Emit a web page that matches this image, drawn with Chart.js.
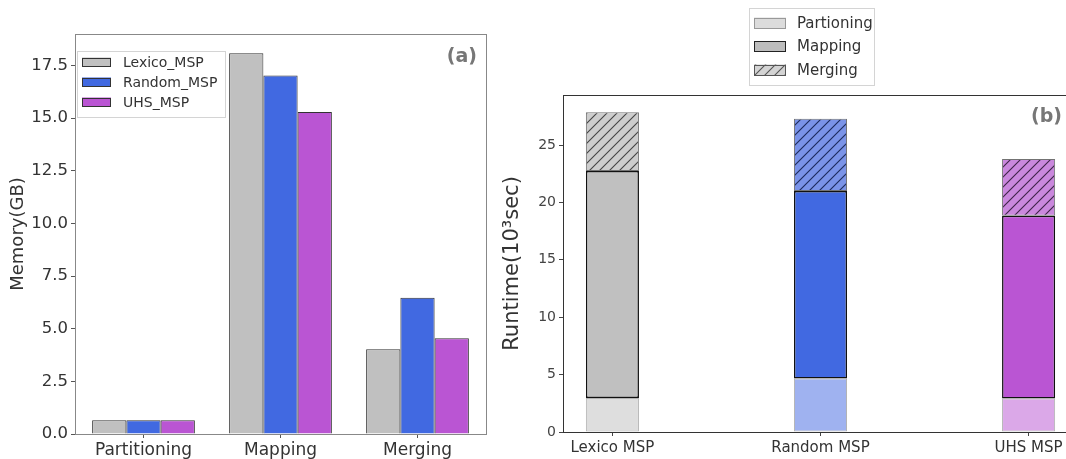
<!DOCTYPE html>
<html>
<head>
<meta charset="utf-8">
<script src="https://cdn.jsdelivr.net/npm/chart.js@4.4.1/dist/chart.umd.min.js"></script>
<style>
html, body { margin: 0; padding: 0; background: #fff; overflow: hidden; width: 1066px; height: 459px; }
canvas { position: absolute; top: 0; }
</style>
</head>
<body>
<canvas id="memChart" width="500" height="459" style="left:0"></canvas>
<canvas id="timeChart" width="600" height="459" style="left:500px"></canvas>
<script>
// Panel (a): peak memory (GB) per phase
const phases = ['Partitioning', 'Mapping', 'Merging'];
const lexicoMem = [0.65, 18.08, 4.02];
const randomMem = [0.65, 17.03, 6.47];
const uhsMem = [0.65, 15.29, 4.55];
const memTicks = [0, 2.5, 5, 7.5, 10, 12.5, 15, 17.5];

// Panel (b): runtime (10^3 sec) per method, stacked by phase
const methods = ['Lexico MSP', 'Random MSP', 'UHS MSP'];
const partTime = [2.96, 4.66, 2.91];
const mapTime = [19.77, 16.33, 15.92];
const mergeTime = [5.12, 6.30, 4.95];
const timeTicks = [0, 5, 10, 15, 20, 25];

Chart.defaults.font.family = '"DejaVu Sans", sans-serif';
Chart.defaults.color = '#333';
Chart.defaults.animation = false;

// Diagonal hatch fill like matplotlib's '///'
function hatch(bg, line) {
    const s = 10;
    const c = document.createElement('canvas');
    c.width = s; c.height = s;
    const g = c.getContext('2d');
    g.fillStyle = bg;
    g.fillRect(0, 0, s, s);
    g.strokeStyle = line;
    g.lineWidth = 1.1;
    g.beginPath();
    g.moveTo(0, s); g.lineTo(s, 0);
    g.moveTo(-1, 1); g.lineTo(1, -1);
    g.moveTo(s - 1, s + 1); g.lineTo(s + 1, s - 1);
    g.stroke();
    return g.createPattern(c, 'repeat');
}

// Frame on all four sides, panel tag and a boxed legend
const framePlugin = {
    id: 'frame',
    afterDraw(chart, args, opts) {
        const { ctx, chartArea: a } = chart;
        ctx.save();
        ctx.strokeStyle = opts.color;
        ctx.lineWidth = 1;
        ctx.strokeRect(Math.round(a.left) + 0.5, Math.round(a.top) + 0.5,
            Math.round(a.right - a.left), Math.round(a.bottom - a.top));

        ctx.font = 'bold 19px "DejaVu Sans"';
        ctx.fillStyle = '#777';
        ctx.textAlign = 'right';
        ctx.textBaseline = 'middle';
        ctx.fillText(opts.tag, a.right - opts.tagDx, a.top + opts.tagDy);

        const lg = opts.legend;
        ctx.fillStyle = '#fff';
        ctx.strokeStyle = '#d4d4d4';
        ctx.fillRect(lg.x, lg.y, lg.w, lg.h);
        ctx.strokeRect(lg.x + 0.5, lg.y + 0.5, lg.w, lg.h);
        ctx.font = lg.font;
        ctx.textAlign = 'left';
        lg.items.forEach((it, i) => {
            const cy = lg.firstY + i * lg.rowH;
            ctx.fillStyle = it.fill;
            ctx.fillRect(lg.swX, cy - lg.swH / 2, lg.swW, lg.swH);
            ctx.strokeStyle = it.stroke;
            ctx.strokeRect(lg.swX + 0.5, Math.round(cy - lg.swH / 2) + 0.5, lg.swW - 1, lg.swH - 1);
            ctx.fillStyle = '#333';
            ctx.fillText(it.label, lg.textX, cy + 1);
        });
        ctx.restore();
    }
};

// ---- Panel (a)
const memColors = ['#c0c0c0', '#4169e1', '#ba55d3'];
const memNames = ['Lexico_MSP', 'Random_MSP', 'UHS_MSP'];
const memSeries = [lexicoMem, randomMem, uhsMem];

new Chart(document.getElementById('memChart'), {
    type: 'bar',
    data: {
        labels: phases,
        datasets: memSeries.map((vals, i) => ({
            label: memNames[i],
            data: vals,
            backgroundColor: memColors[i],
            borderColor: '#333',
            borderWidth: 1,
            borderSkipped: 'bottom',
            categoryPercentage: 0.75,
            barPercentage: 1.0
        }))
    },
    options: {
        responsive: false,
        layout: { padding: { left: 0, top: 34, right: 14, bottom: 0 } },
        plugins: {
            legend: { display: false },
            tooltip: { enabled: false },
            frame: {
                color: '#888',
                tag: '(a)',
                tagDx: 9,
                tagDy: 23,
                legend: {
                    x: 77, y: 51, w: 148, h: 66,
                    firstY: 62, rowH: 20,
                    swX: 82, swW: 29, swH: 9, textX: 123,
                    font: '14px "DejaVu Sans"',
                    items: memNames.map((n, i) => ({ label: n, fill: memColors[i], stroke: '#333' }))
                }
            }
        },
        scales: {
            x: {
                grid: { display: true, drawOnChartArea: false, offset: false, tickLength: 4, color: '#555' },
                border: { display: false },
                ticks: { font: { size: 17 }, padding: 2 },
                afterFit: s => { s.height = 25; }
            },
            y: {
                min: 0,
                max: 19,
                afterBuildTicks: s => { s.ticks = memTicks.map(v => ({ value: v })); },
                grid: { display: true, drawOnChartArea: false, tickLength: 4, color: '#555' },
                border: { display: false },
                ticks: { font: { size: 16.5 }, padding: 3, callback: v => v.toFixed(1) },
                title: { display: true, text: 'Memory(GB)', font: { size: 18 }, padding: { top: 8, bottom: 0 } },
                afterFit: s => { s.width = 75; }
            }
        }
    },
    plugins: [framePlugin]
});

// ---- Panel (b)
const timeCanvas = document.getElementById('timeChart');
const partColors = ['#dedede', '#9fb2f0', '#dba8e8'];
const mapColors = ['#c0c0c0', '#4169e1', '#ba55d3'];
const mergeColors = [hatch('#cdcdcd', '#444'), hatch('#7a93e8', '#1c2a5c'), hatch('#ca88dd', '#3e2448')];

const toPoints = vals => vals.map((v, i) => ({ x: i, y: v }));

new Chart(timeCanvas, {
    type: 'bar',
    data: {
        datasets: [
            {
                label: 'Partioning',
                data: toPoints(partTime),
                backgroundColor: partColors,
                borderColor: 'rgba(0,0,0,0.3)',
                borderWidth: 1,
                borderSkipped: false
            },
            {
                label: 'Mapping',
                data: toPoints(mapTime),
                backgroundColor: mapColors,
                borderColor: '#111',
                borderWidth: 1.5,
                borderSkipped: false
            },
            {
                label: 'Merging',
                data: toPoints(mergeTime),
                backgroundColor: mergeColors,
                borderColor: 'rgba(0,0,0,0.55)',
                borderWidth: 1,
                borderSkipped: false
            }
        ]
    },
    options: {
        responsive: false,
        layout: { padding: { left: 0, top: 95, right: 22, bottom: 0 } },
        datasets: { bar: { categoryPercentage: 1, barPercentage: 0.255 } },
        plugins: {
            legend: { display: false },
            tooltip: { enabled: false },
            frame: {
                color: '#333',
                tag: '(b)',
                tagDx: 16,
                tagDy: 22,
                legend: {
                    x: 249, y: 8, w: 125, h: 77,
                    firstY: 23, rowH: 23.5,
                    swX: 254, swW: 32, swH: 11, textX: 297,
                    font: '15px "DejaVu Sans"',
                    items: [
                        { label: 'Partioning', fill: '#dcdcdc', stroke: '#999' },
                        { label: 'Mapping', fill: '#bdbdbd', stroke: '#222' },
                        { label: 'Merging', fill: hatch('#d4d4d4', '#555'), stroke: '#555' }
                    ]
                }
            }
        },
        scales: {
            x: {
                type: 'linear',
                stacked: true,
                offset: false,
                min: -0.2375,
                max: 2.2375,
                afterBuildTicks: s => { s.ticks = methods.map((m, i) => ({ value: i })); },
                grid: { display: true, drawOnChartArea: false, offset: false, tickLength: 4, color: '#444' },
                border: { display: false },
                ticks: { font: { size: 15 }, padding: 3, callback: v => methods[v] },
                afterFit: s => { s.height = 27; }
            },
            y: {
                stacked: true,
                min: 0,
                max: 29.36,
                afterBuildTicks: s => { s.ticks = timeTicks.map(v => ({ value: v })); },
                grid: { display: true, drawOnChartArea: false, tickLength: 4, color: '#444' },
                border: { display: false },
                ticks: { font: { size: 14 }, padding: 3, color: '#444' },
                title: { display: true, text: 'Runtime(10³sec)', font: { size: 21 }, padding: { top: 0, bottom: 0 } },
                afterFit: s => { s.width = 63; }
            }
        }
    },
    plugins: [framePlugin]
});
</script>
</body>
</html>
